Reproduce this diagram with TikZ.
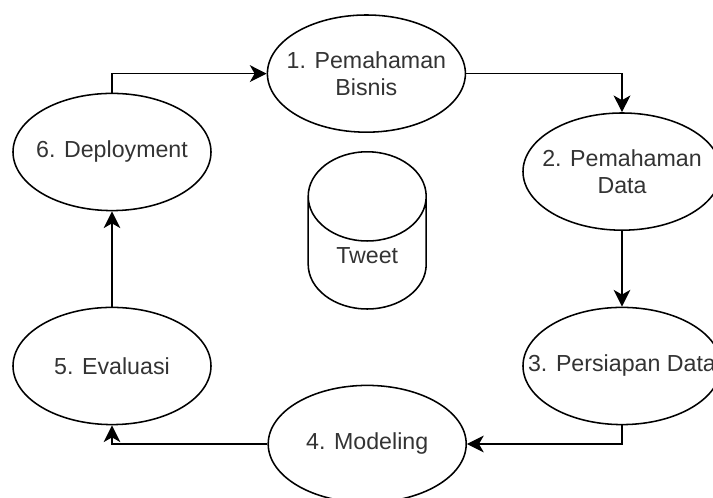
\documentclass[tikz,border=0pt]{standalone}
\usepackage{fontspec}
\setmainfont{Liberation Sans}
\usetikzlibrary{shapes.geometric,arrows.meta}

\begin{document}
\begin{tikzpicture}[
    stage/.style={ellipse, draw, line width=1.1pt, minimum width=4.95cm, minimum height=2.93cm, inner sep=0pt},
    txt/.style={align=center, text=black!80, font=\fontsize{16.5}{19.2}\selectfont},
    flow/.style={-{Stealth[length=0.42cm, width=0.42cm, inset=0.12cm]}, line width=0.9pt}
]
    % Page frame
    \clip (0,0) rectangle (17.825,12.45);

    % Draw stages of the cycle
    \node[stage, label={[txt]center:1. Pemahaman\\Bisnis}] (bisnis) at (9.16,10.61) {};
    \node[stage, label={[txt]center:2. Pemahaman\\Data}] (data) at (15.55,8.16) {};
    \node[stage, label={[txt]center:3. Persiapan Data}] (persiapan) at (15.55,3.30) {};
    \node[stage, label={[txt]center:4. Modeling}] (modeling) at (9.18,1.35) {};
    \node[stage, label={[txt]center:5. Evaluasi}] (evaluasi) at (2.80,3.30) {};
    \node[stage, label={[txt]center:6. Deployment}] (deployment) at (2.80,8.65) {};

    % Draw data store
    \node[cylinder, shape border rotate=90, draw, line width=1.1pt, aspect=0.95,
          minimum width=2.95cm, minimum height=3.93cm, inner xsep=0.4cm,
          anchor=shape center, txt] (tweet) at (9.18,6.69) {\raisebox{0.33cm}[\height][\depth]{Tweet}};

    % Draw connections
    \draw[flow] (bisnis.east) -| (data.north);
    \draw[flow] (data.south) -- (persiapan.north);
    \draw[flow] (persiapan.south) |- (modeling.east);
    \draw[flow] (modeling.west) -| (evaluasi.south);
    \draw[flow] (evaluasi.north) -- (deployment.south);
    \draw[flow] (deployment.north) |- (bisnis.west);
\end{tikzpicture}
\end{document}
